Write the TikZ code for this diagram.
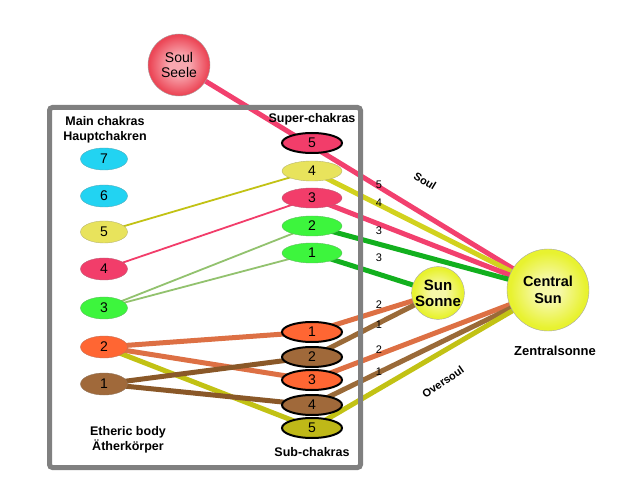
\documentclass[tikz,border=0pt]{standalone}
\usepackage{fontspec}
\setmainfont{Liberation Sans}
\usepackage{xcolor}
\definecolor{CYANCOLOR}{HTML}{22D3F2}
\definecolor{YELLOWCOLOR}{HTML}{E8E35C}
\definecolor{PINKCOLOR}{HTML}{F23D6A}
\definecolor{GREENCOLOR}{HTML}{3DF53D}
\definecolor{ORANGECOLOR}{HTML}{FF6633}
\definecolor{BROWNCOLOR}{HTML}{A0693A}
\definecolor{OLIVECOLOR}{HTML}{BFB818}
\definecolor{SOULLINE}{HTML}{F2406E}
\definecolor{YELLOWLINE}{HTML}{D2D21E}
\definecolor{GREENLINE}{HTML}{12B01E}
\definecolor{LIGHTGREENLINE}{HTML}{92C26E}
\definecolor{ORANGELINE}{HTML}{DD7044}
\definecolor{BROWNLINE}{HTML}{9A6A38}
\definecolor{DARKBROWNLINE}{HTML}{8A5828}
\definecolor{OLIVELINE}{HTML}{C2C214}
\definecolor{FRAMECOLOR}{HTML}{808080}
\definecolor{SUNCOLOR}{HTML}{E8F230}
\definecolor{SUNCENTER}{HTML}{F6F8A8}
\definecolor{SOULCOLOR}{HTML}{EC4656}
\definecolor{SOULCENTER}{HTML}{F8A8B0}
\usepackage{tikz}
\usetikzlibrary{shapes.geometric,positioning,backgrounds}
\pgfdeclareradialshading{soul-shade}{\pgfpoint{0bp}{0bp}}{color(0bp)=(SOULCENTER); color(8bp)=(SOULCENTER); color(24bp)=(SOULCOLOR); color(50bp)=(SOULCOLOR)}
\pgfdeclareradialshading{sun-shade}{\pgfpoint{0bp}{0bp}}{color(0bp)=(SUNCENTER); color(7bp)=(SUNCENTER); color(23bp)=(SUNCOLOR); color(50bp)=(SUNCOLOR)}
\tikzset{
  chakra-style/.style = {
    ellipse, draw=#1!55!gray, thin, fill=#1,
    inner sep=0pt,
    font=\fontsize{14}{14}\selectfont
  },
  main-style/.style = {
    chakra-style=#1,
    minimum width=47pt, minimum height=22pt
  },
  super-style/.style = {
    chakra-style=#1,
    minimum width=60pt, minimum height=20pt
  },
  sub-style/.style = {
    super-style=#1, draw=black, line width=2pt
  },
  soul-style/.style = {
    circle, draw=gray!70, thin, shading=soul-shade,
    minimum size=62pt, inner sep=0pt, align=center,
    font=\fontsize{14}{15}\selectfont
  },
  sun-style/.style = {
    circle, draw=gray!70, thin, shading=sun-shade,
    minimum size=#1, inner sep=0pt, align=center,
    font=\bfseries\fontsize{15}{16}\selectfont
  },
  title-style/.style = {
    align=center, inner sep=1pt,
    font=\bfseries\fontsize{12.5}{15}\selectfont
  },
  num-style/.style = {
    inner sep=1pt, font=\fontsize{11}{11}\selectfont
  },
  tag-style/.style = {
    inner sep=0pt, rotate=#1, font=\bfseries\fontsize{11}{11}\selectfont
  },
  link-style/.style = {
    draw=#1, line width=5pt
  },
  thin-link-style/.style = {
    draw=#1, line width=1.8pt
  },
  frame-style/.style = {
    draw=FRAMECOLOR, line width=5pt, rounded corners=3pt
  }
}
\def\createLink from:#1 to:#2 color:#3;{
  \draw[link-style=#3] (#1.center) -- (#2.center);
}
\def\createThinLink from:#1 to:#2 color:#3;{
  \draw[thin-link-style=#3] (#1.center) -- (#2.center);
}
\begin{document}
\begin{tikzpicture}[x=1pt,y=-1pt]
  \useasboundingbox (0,0) rectangle (643,497);

  % circles
  \node[soul-style] (soul) at (179,65) {Soul\\Seele};
  \node[sun-style=52pt] (sun) at (438,293) {Sun\\Sonne};
  \node[sun-style=82pt, font=\bfseries\fontsize{14.5}{16.5}\selectfont] (central) at (548,290) {Central\\Sun};
  \node[title-style, font=\bfseries\fontsize{13}{15}\selectfont] (zentral) at (555,351) {Zentralsonne};

  % chakras
  \foreach \n/\y/\c in {7/159/CYANCOLOR, 6/196/CYANCOLOR, 5/232/YELLOWCOLOR, 4/269/PINKCOLOR,
                        3/308/GREENCOLOR, 2/347/ORANGECOLOR, 1/384/BROWNCOLOR}
    \node[main-style=\c] (main\n) at (104,\y) {\n};
  \node[sub-style=PINKCOLOR] (super5) at (312,143) {5};
  \foreach \n/\y/\c in {4/171/YELLOWCOLOR, 3/198/PINKCOLOR, 2/226/GREENCOLOR, 1/253/GREENCOLOR}
    \node[super-style=\c] (super\n) at (312,\y) {\n};
  \foreach \n/\y/\c in {1/332/ORANGECOLOR, 2/357/BROWNCOLOR, 3/380/ORANGECOLOR,
                        4/405/BROWNCOLOR, 5/428/OLIVECOLOR}
    \node[sub-style=\c] (sub\n) at (312,\y) {\n};

  % titles
  \node[title-style] (main-title) at (105,130) {Main chakras\\Hauptchakren};
  \node[title-style] (super-title) at (312,119) {Super-chakras};
  \node[title-style] (etheric-title) at (128,440) {Etheric body\\Ätherkörper};
  \node[title-style] (sub-title) at (312,452) {Sub-chakras};

  % link numbers
  \foreach \t/\y in {5/185, 4/203, 3/231, 3/258, 2/305, 1/325, 2/350, 1/372}
    \node[num-style] (num\y) at (379,\y) {\t};
  \node[tag-style=-31] (soul-tag) at (425,181) {Soul};
  \node[tag-style=35] (oversoul-tag) at (443,382) {Oversoul};

  \draw[frame-style] (49.5,107.5) rectangle (360.5,467.5);

  \begin{pgfonlayer}{background}
    \fill[white] (0,0) rectangle (643,497);
    \createThinLink from:main5 to:super4 color:OLIVELINE;
    \createThinLink from:main4 to:super3 color:PINKCOLOR;
    \createThinLink from:main3 to:super2 color:LIGHTGREENLINE;
    \createThinLink from:main3 to:super1 color:LIGHTGREENLINE;
    \createLink from:main2 to:sub5 color:OLIVELINE;
    \createLink from:main2 to:sub1 color:ORANGELINE;
    \createLink from:main2 to:sub3 color:ORANGELINE;
    \createLink from:main1 to:sub2 color:DARKBROWNLINE;
    \createLink from:main1 to:sub4 color:DARKBROWNLINE;
    \createLink from:soul to:central color:SOULLINE;
    \createLink from:super4 to:central color:YELLOWLINE;
    \createLink from:super3 to:central color:SOULLINE;
    \createLink from:super2 to:central color:GREENLINE;
    \createLink from:super1 to:sun color:GREENLINE;
    \createLink from:sub1 to:sun color:ORANGELINE;
    \createLink from:sub2 to:sun color:BROWNLINE;
    \createLink from:sub3 to:central color:ORANGELINE;
    \createLink from:sub4 to:central color:BROWNLINE;
    \createLink from:sub5 to:central color:OLIVELINE;
  \end{pgfonlayer}
\end{tikzpicture}
\end{document}
